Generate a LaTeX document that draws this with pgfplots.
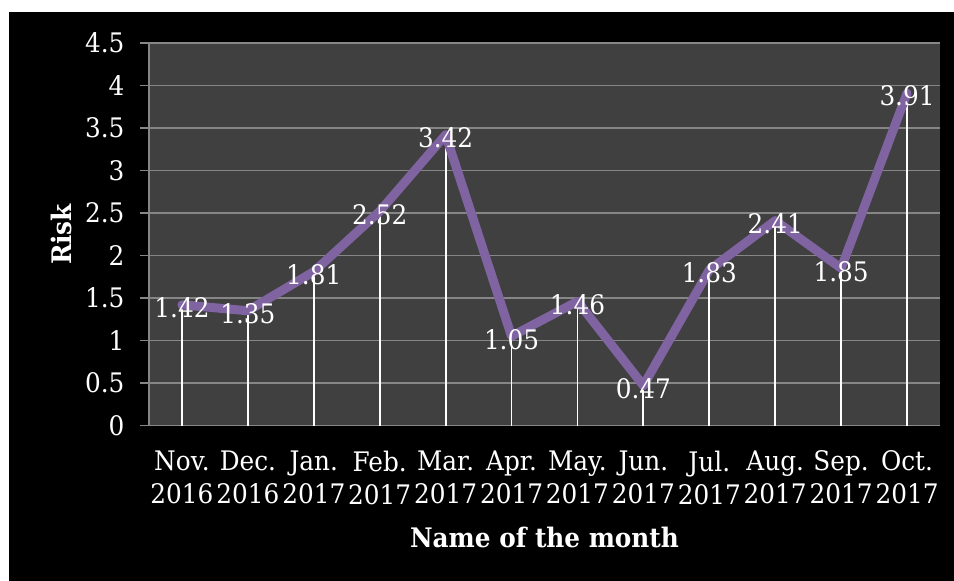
\documentclass[border=0pt]{standalone}
\usepackage{fontspec}
\setmainfont{DejaVu Serif}[FakeStretch=0.92]
\usepackage{pgfplots}
\pgfplotsset{compat=1.18}

\definecolor{plotbg}{RGB}{64,64,64}
\definecolor{gridc}{RGB}{134,134,134}
\definecolor{riskline}{RGB}{128,100,162}

\begin{document}
\begin{tikzpicture}[x=1bp,y=1bp]
\useasboundingbox (0,0) rectangle (954,-581);
\fill[white] (0,0) rectangle (954,-581);
\fill[black] (9,-12) rectangle (954,-581);
\begin{axis}[
    at={(149bp,-425.5bp)}, anchor=south west,
    scale only axis, width=791bp, height=382.5bp,
    xmin=-0.5, xmax=11.5, ymin=0, ymax=4.5,
    axis background/.style={fill=plotbg},
    axis x line*=bottom, axis y line*=left,
    axis line style={draw=gridc, line width=1.5bp, -},
    xtick={0,...,11},
    xticklabels={Nov.\\2016, Dec.\\2016, Jan.\\2017, Feb.\\2017, Mar.\\2017, Apr.\\2017,
                 May.\\2017, Jun.\\2017, Jul.\\2017, Aug.\\2017, Sep.\\2017, Oct.\\2017},
    xtick style={draw=none},
    ytick={0,0.5,1,1.5,2,2.5,3,3.5,4,4.5},
    ytick style={draw=gridc, line width=1.5bp},
    tick align=outside, major tick length=9bp,
    ymajorgrids, grid style={draw=gridc, line width=1.5bp},
    /pgf/number format/assume math mode=true,
    ticklabel style={font=\fontsize{27}{33}\selectfont, text=white},
    xticklabel style={align=center, yshift=-13bp},
    yticklabel style={xshift=-12bp},
    xlabel={\textbf{Name of the month}},
    ylabel={\textbf{Risk}},
    every axis x label/.style={at={(axis description cs:0.5,-0.318)}, anchor=base,
        font=\fontsize{27}{30}\selectfont, text=white},
    every axis y label/.style={at={(axis description cs:-0.111,0.5)}, rotate=90, anchor=center,
        font=\fontsize{27}{30}\selectfont, text=white},
    clip=false,
]
% white drop lines from each point
\addplot[ycomb, draw=white, line width=1.8bp, forget plot] coordinates {
    (0,1.42) (1,1.35) (2,1.81) (3,2.52) (4,3.42) (5,1.05)
    (6,1.46) (7,0.47) (8,1.83) (9,2.41) (10,1.85) (11,3.91)
};
\addplot[draw=riskline, line width=9bp, line join=round, line cap=round,
    point meta=explicit symbolic, nodes near coords,
    every node near coord/.append style={anchor=center, text=white,
        font=\fontsize{27}{30}\selectfont, yshift=-3bp}]
coordinates {
    (0,1.42) [1.42] (1,1.35) [1.35] (2,1.81) [1.81] (3,2.52) [2.52]
    (4,3.42) [3.42] (5,1.05) [1.05] (6,1.46) [1.46] (7,0.47) [0.47]
    (8,1.83) [1.83] (9,2.41) [2.41] (10,1.85) [1.85] (11,3.91) [3.91]
};
\end{axis}
\end{tikzpicture}
\end{document}
